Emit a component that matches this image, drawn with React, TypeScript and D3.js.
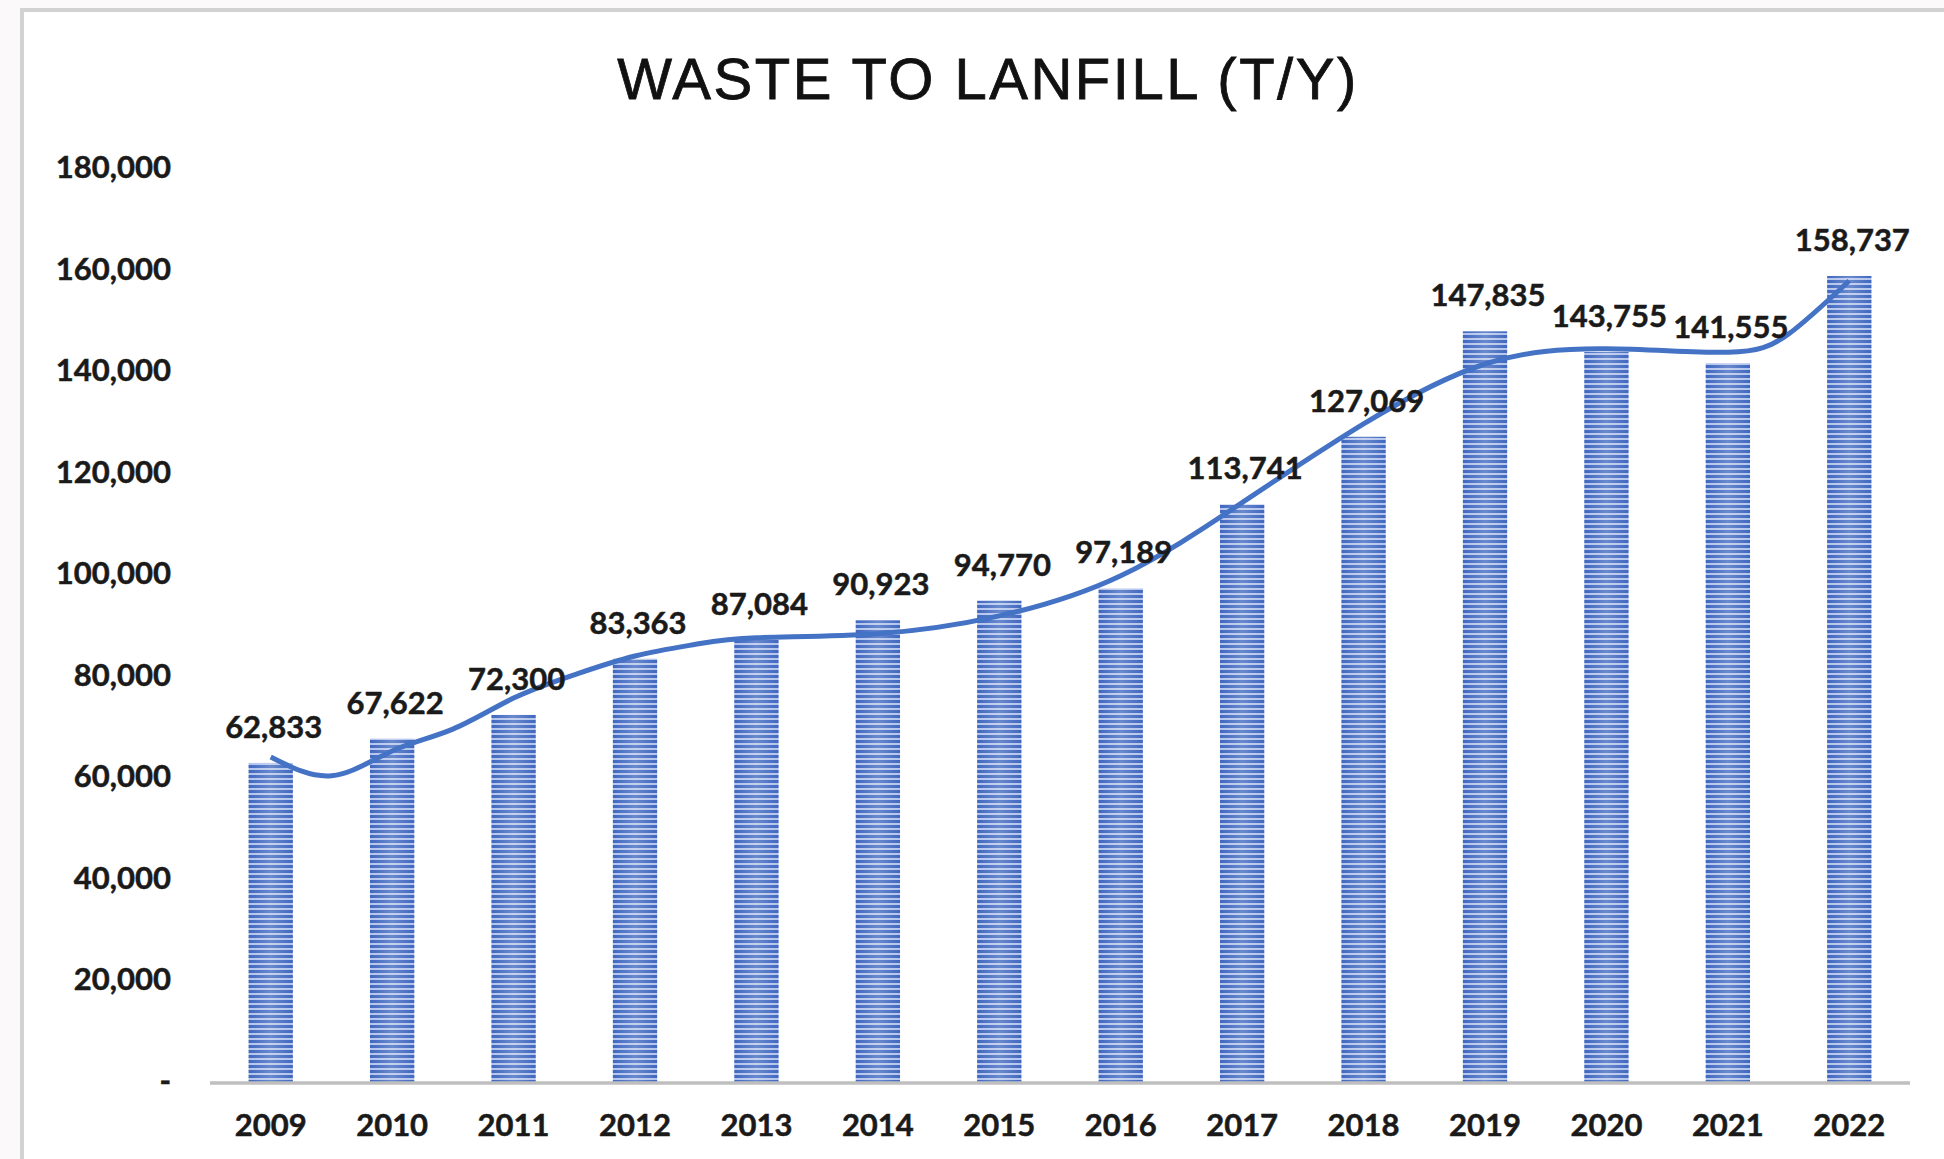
import React from "react";
import * as d3 from "d3";

const years = ["2009","2010","2011","2012","2013","2014","2015","2016","2017","2018","2019","2020","2021","2022"];
const values = [62833,67622,72300,83363,87084,90923,94770,97189,113741,127069,147835,143755,141555,158737];
const yTicks = [0,20000,40000,60000,80000,100000,120000,140000,160000,180000];
// trendline (index position along categories, value)
const trendPos = [0,0.5,1,1.5,2,2.5,3,3.5,4,5,6,7,8,9,10,11,12,12.5,13];
const trendVal = [64000,60300,65200,69500,75600,80200,83900,86200,87500,88300,91800,99700,114100,129600,141400,144400,143700,147300,157800];

const W = 1944, H = 1159;
const axisLeft = 210, axisRight = 1910;
const y0 = 1082, yTop = 168;
const FONT = "Lato, 'Open Sans', sans-serif";
const FS = 31;

export default function App() {
  const x = d3.scaleBand<string>().domain(years).range([axisLeft, axisRight]).paddingInner(0.635).paddingOuter(0.3175);
  const y = d3.scaleLinear().domain([0, 180000]).range([y0, yTop]);
  const xc = (i: number) => (x(years[0]) as number) + x.bandwidth() / 2 + i * x.step();
  const fmt = d3.format(",");
  const line = d3.line<number>()
    .x((_, i) => xc(trendPos[i]))
    .y((v) => y(v))
    .curve(d3.curveNatural);
  const textStyle = { paintOrder: "stroke" } as React.CSSProperties;
  return (
    <div style={{ position: "fixed", left: 0, top: 0 }}>
      <svg width={W} height={H} style={{ display: "block" }}>
        <defs>
          <pattern id="stripes" patternUnits="userSpaceOnUse" width={8} height={5}>
            <rect width={8} height={5} fill="#b3c4ec" />
            <rect width={8} height={3} fill="#4068c0" />
          </pattern>
          <linearGradient id="sheen" x1="0" x2="1" y1="0" y2="0">
            <stop offset="0" stopColor="#ffffff" stopOpacity={0} />
            <stop offset="0.5" stopColor="#ffffff" stopOpacity={0.22} />
            <stop offset="1" stopColor="#ffffff" stopOpacity={0} />
          </linearGradient>
        </defs>
        <rect width={W} height={H} fill="#fbf9fa" />
        <rect x={22} y={10} width={W} height={H} fill="#ffffff" stroke="#d2d2d2" strokeWidth={4} />
        <text x={988} y={99} textAnchor="middle" fontFamily="'Liberation Sans', Arial, sans-serif" fontSize={58} letterSpacing={2.5} fill="#111" stroke="#111" strokeWidth={0.8}>WASTE TO LANFILL (T/Y)</text>
        {yTicks.map((t) => (
          <text key={t} x={171} y={y(t) + 10} textAnchor="end" fontFamily={FONT} fontWeight={700} fontSize={FS} fill="#1a1a1a" stroke="#1a1a1a" strokeWidth={0.5} style={textStyle}>
            {t === 0 ? "-" : fmt(t)}
          </text>
        ))}
        {values.map((v, i) => (
          <g key={years[i]}>
            <rect x={x(years[i])} y={y(v)} width={x.bandwidth()} height={y0 - y(v)} fill="url(#stripes)" />
            <rect x={x(years[i])} y={y(v)} width={x.bandwidth()} height={y0 - y(v)} fill="url(#sheen)" />
          </g>
        ))}
        <line x1={axisLeft} x2={axisRight} y1={y0 + 1} y2={y0 + 1} stroke="#bfbfbf" strokeWidth={3.5} />
        <path d={line(trendVal) as string} fill="none" stroke="#4472c4" strokeWidth={5} />
        {values.map((v, i) => (
          <text key={"l" + i} x={xc(i) + 3} y={y(v) - 25} textAnchor="middle" fontFamily={FONT} fontWeight={700} fontSize={FS} fill="#1a1a1a" stroke="#1a1a1a" strokeWidth={0.5} style={textStyle}>
            {fmt(v)}
          </text>
        ))}
        {years.map((yr, i) => (
          <text key={"x" + yr} x={xc(i)} y={1136} textAnchor="middle" fontFamily={FONT} fontWeight={700} fontSize={FS} fill="#1a1a1a" stroke="#1a1a1a" strokeWidth={0.5} style={textStyle}>
            {yr}
          </text>
        ))}
      </svg>
    </div>
  );
}
